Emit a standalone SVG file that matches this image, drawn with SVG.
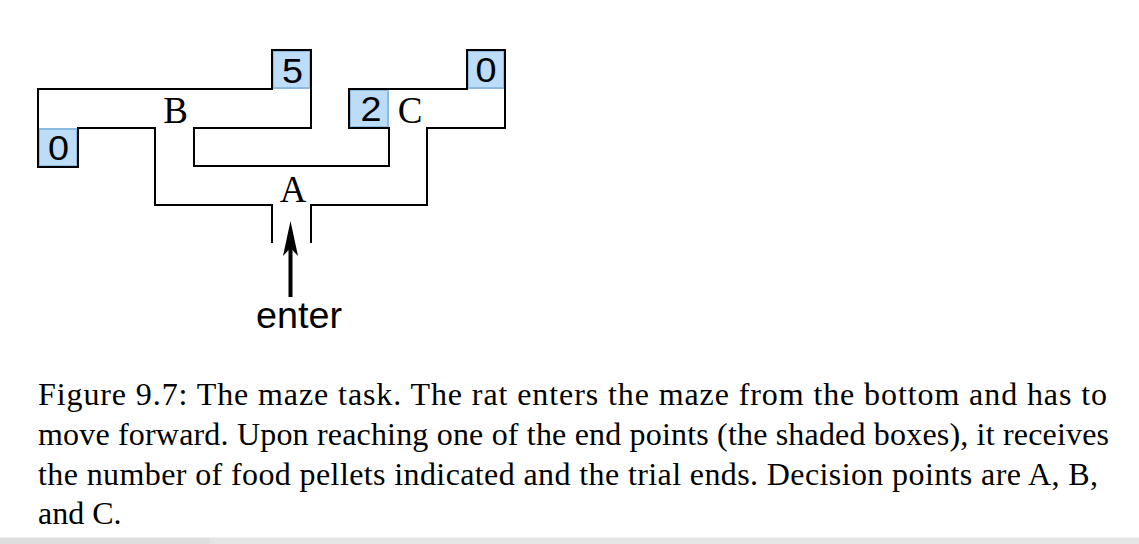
<svg xmlns="http://www.w3.org/2000/svg" width="1139" height="544" viewBox="0 0 1139 544">
<style>
.wall{fill:none;stroke:#000;stroke-width:2;stroke-linejoin:miter;stroke-linecap:square}
.box{fill:#bcdcf7;stroke:#8cbbe2;stroke-width:2}
.num{font-family:"Liberation Sans",Arial,sans-serif;font-size:35px;fill:#000;text-anchor:middle}
.lbl{font-family:"Liberation Serif","Times New Roman",serif;font-size:37px;fill:#000;text-anchor:middle}
.cap{font-family:"Liberation Serif","Times New Roman",serif;font-size:32px;fill:#000}
</style>
<rect width="1139" height="544" fill="#fff"/>
<g id="box5"><rect class="box" x="273" y="51" width="37" height="37"/><text class="num" transform="translate(292.5,83) scale(1.08,1)">5</text></g>
<g id="box0left"><rect class="box" x="39" y="129" width="38" height="37"/><text class="num" transform="translate(58.5,160) scale(1.08,1)">0</text></g>
<g id="box2"><rect class="box" x="350" y="90" width="38" height="37"/><text class="num" transform="translate(371,121) scale(1.08,1)">2</text></g>
<g id="box0right"><rect class="box" x="468" y="51" width="36" height="37"/><text class="num" transform="translate(486,82) scale(1.08,1)">0</text></g>
<g id="walls">
<path class="wall" d="M78,128 V167 H38 V89 H272 V50 H311 V128 H194 V166 H389 V128 H349 V89 H467 V50 H505 V128 H427 V205 H311 V242"/>
<path class="wall" d="M78,128 H155 V205 H272 V242"/>
</g>
<g id="labelB"><text class="lbl" x="175.5" y="123">B</text></g>
<g id="labelA"><text class="lbl" x="293" y="202">A</text></g>
<g id="labelC"><text class="lbl" x="410" y="123">C</text></g>
<g id="connectors">
<line x1="290.5" y1="246" x2="290.5" y2="297" stroke="#000" stroke-width="4"/>
<polygon points="290.5,221 298,256 290.5,248 283,256" fill="#000"/>
</g>
<g id="enter"><text x="299" y="328" font-family="'Liberation Sans',Arial,sans-serif" font-size="36" text-anchor="middle" textLength="86" lengthAdjust="spacingAndGlyphs">enter</text></g>
<g id="caption">
<text class="cap" x="38" y="405" textLength="1069" lengthAdjust="spacing">Figure 9.7:  The maze task.  The rat enters the maze from the bottom and has to</text>
<text class="cap" x="38" y="445" textLength="1071" lengthAdjust="spacing">move forward. Upon reaching one of the end points (the shaded boxes), it receives</text>
<text class="cap" x="38" y="485" textLength="1060" lengthAdjust="spacing">the number of food pellets indicated and the trial ends.  Decision points are A, B,</text>
<text class="cap" x="38" y="524">and C.</text>
</g>
<rect x="0" y="537.5" width="210" height="6.5" fill="#dedede"/>
<rect x="210" y="537.5" width="929" height="6.5" fill="#e5e5e5"/>
</svg>
